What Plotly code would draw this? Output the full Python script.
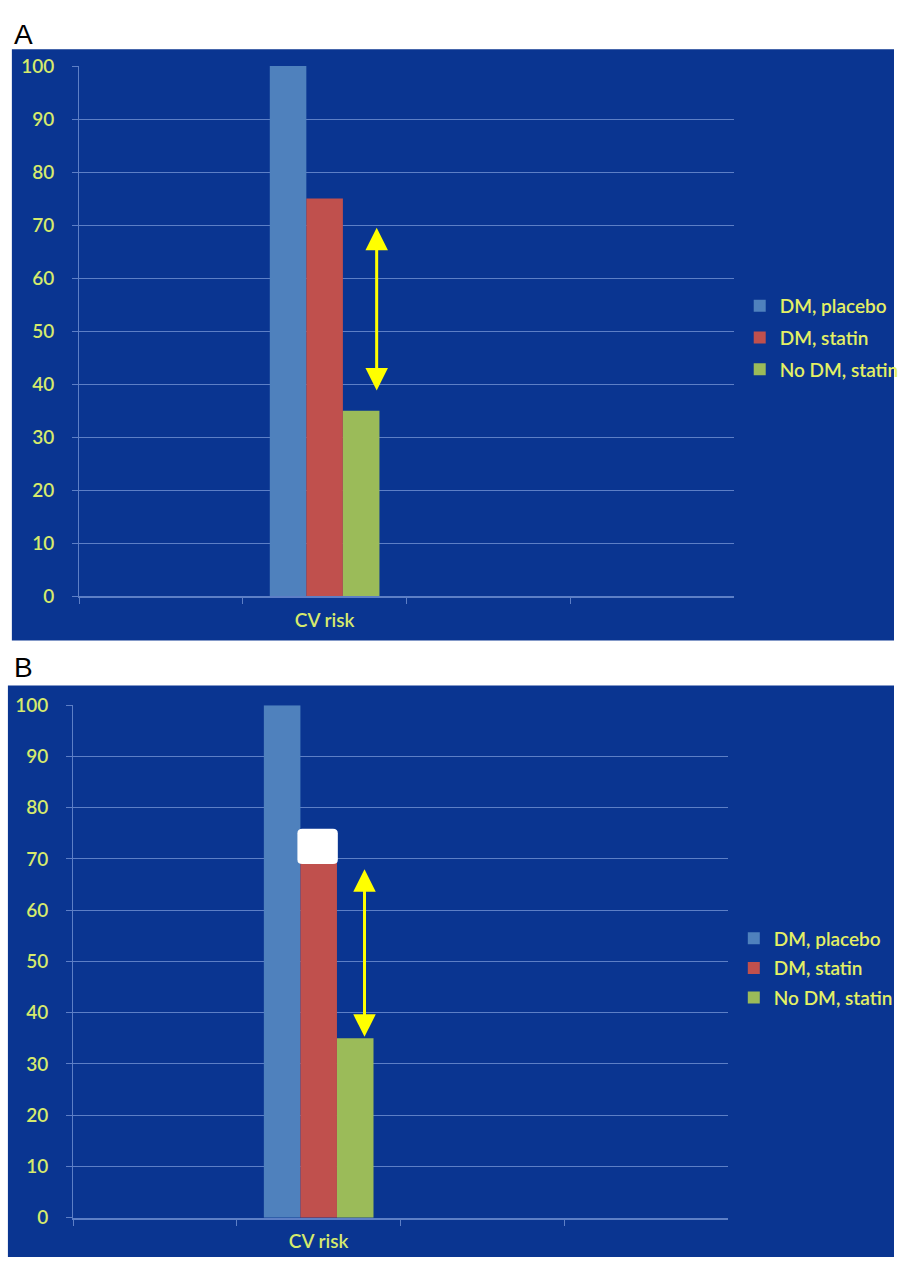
import plotly.graph_objects as go

# ---- data ----
categories = [" ", "CV risk", "  ", "   "]
series_names = ["DM, placebo", "DM, statin", "No DM, statin"]
values_A = [100, 75, 35]
values_B = [100, 75, 35]
colors = ["#4f81bd", "#c0504d", "#9bbb59"]
y_tickvals = list(range(0, 101, 10))
arrow_A = (69.5, 38.5)   # top, bottom of yellow double arrow (value units)
arrow_B = (68.0, 35.0)
white_box_B = (69.0, 75.9)

BG = "#0a3591"
GRID = "#5d7fc6"
TICK_COLOR = "#d6ea6c"
LEG_COLOR = "#e4f064"
FONT = "Lato"

fig = go.Figure()
for i, name in enumerate(series_names):
    fig.add_trace(go.Bar(x=["CV risk"], y=[values_A[i]], name=name,
                         marker=dict(color=colors[i], line=dict(width=0)),
                         xaxis="x", yaxis="y", legend="legend",
                         legendgroup="a%d" % i))
for i, name in enumerate(series_names):
    fig.add_trace(go.Bar(x=["CV risk"], y=[values_B[i]], name=name,
                         marker=dict(color=colors[i], line=dict(width=0)),
                         xaxis="x2", yaxis="y2", legend="legend2",
                         legendgroup="b%d" % i))

W, H = 904, 1270
def px(x):
    return x / W
def py(y):
    return 1 - y / H

xcommon = dict(type="category", categoryorder="array", categoryarray=categories,
               range=[-0.5, 3.5], tickson="boundaries", ticks="outside", ticklen=6,
               tickcolor=GRID, showline=True, linecolor=GRID, linewidth=1.5,
               showgrid=False, zeroline=False, fixedrange=True,
               tickfont=dict(family=FONT, size=19, color=TICK_COLOR, weight=600),
               ticklabelstandoff=6)
ycommon = dict(range=[0, 100], tickvals=y_tickvals, showgrid=True, gridcolor=GRID,
               gridwidth=1, showline=True, linecolor=GRID, linewidth=1.2,
               ticks="outside", ticklen=6, tickcolor=GRID, zeroline=False,
               fixedrange=True,
               tickfont=dict(family=FONT, size=19, color=TICK_COLOR, weight=600),
               ticklabelstandoff=14)

fig.update_layout(
    width=W, height=H, margin=dict(l=0, r=0, t=0, b=0, pad=0),
    paper_bgcolor="white", plot_bgcolor="rgba(0,0,0,0)",
    barmode="group", bargap=0.33, bargroupgap=0,
    xaxis=dict(domain=[px(80), px(742)], anchor="y", **xcommon),
    yaxis=dict(domain=[py(595), py(55)], anchor="x", **ycommon),
    xaxis2=dict(domain=[px(74), px(736)], anchor="y2", **xcommon),
    yaxis2=dict(domain=[py(1228), py(706)], anchor="x2", **ycommon),
    legend=dict(x=px(748), y=py(332), xanchor="left", yanchor="middle",
                bgcolor="rgba(0,0,0,0)",
                font=dict(family=FONT, size=19, color=LEG_COLOR, weight=600),
                tracegroupgap=4, itemwidth=30),
    legend2=dict(x=px(742), y=py(974), xanchor="left", yanchor="middle",
                 bgcolor="rgba(0,0,0,0)",
                 font=dict(family=FONT, size=19, color=LEG_COLOR, weight=600),
                 tracegroupgap=2, itemwidth=30),
    showlegend=True,
)

# rounded white box (in data units of panel B)
bx0, bx1 = 0.87, 1.117
by0, by1 = white_box_B
rx, ry = 0.03, 0.9
box_path = (f"M {bx0+rx},{by0} L {bx1-rx},{by0} Q {bx1},{by0} {bx1},{by0+ry} "
            f"L {bx1},{by1-ry} Q {bx1},{by1} {bx1-rx},{by1} "
            f"L {bx0+rx},{by1} Q {bx0},{by1} {bx0},{by1-ry} "
            f"L {bx0},{by0+ry} Q {bx0},{by0} {bx0+rx},{by0} Z")

shapes = [
    dict(type="rect", xref="paper", yref="paper", x0=px(12), x1=1, y0=py(640), y1=py(38),
         fillcolor=BG, line=dict(width=0), layer="below"),
    dict(type="rect", xref="paper", yref="paper", x0=px(8), x1=1, y0=py(1268), y1=py(686),
         fillcolor=BG, line=dict(width=0), layer="below"),
    dict(type="path", xref="x2", yref="y2", path=box_path, fillcolor="white",
         line=dict(width=0), layer="above"),
]
fig.update_layout(shapes=shapes)

arrow_style = dict(showarrow=True, text="", arrowhead=2, startarrowhead=2,
                   arrowside="end+start", arrowcolor="#ffff00", arrowwidth=3,
                   arrowsize=1.5, startarrowsize=1.5, standoff=0, startstandoff=0)
annotations = [
    dict(x=1.318, y=arrow_A[0], ax=1.318, ay=arrow_A[1], xref="x", yref="y",
         axref="x", ayref="y", **arrow_style),
    dict(x=1.28, y=arrow_B[0], ax=1.28, ay=arrow_B[1], xref="x2", yref="y2",
         axref="x2", ayref="y2", **arrow_style),
    dict(text="A", x=px(12), y=py(23), xref="paper", yref="paper", xanchor="left",
         yanchor="middle", showarrow=False,
         font=dict(family="Liberation Sans", size=28, color="black")),
    dict(text="B", x=px(12), y=py(668), xref="paper", yref="paper", xanchor="left",
         yanchor="middle", showarrow=False,
         font=dict(family="Liberation Sans", size=28, color="black")),
]
fig.update_layout(annotations=annotations)

fig.write_html("out.html",
               config={"displayModeBar": False},
               post_script="document.body.style.margin='0';"
                           "document.documentElement.style.overflow='hidden';"
                           "document.body.style.overflow='hidden';")
